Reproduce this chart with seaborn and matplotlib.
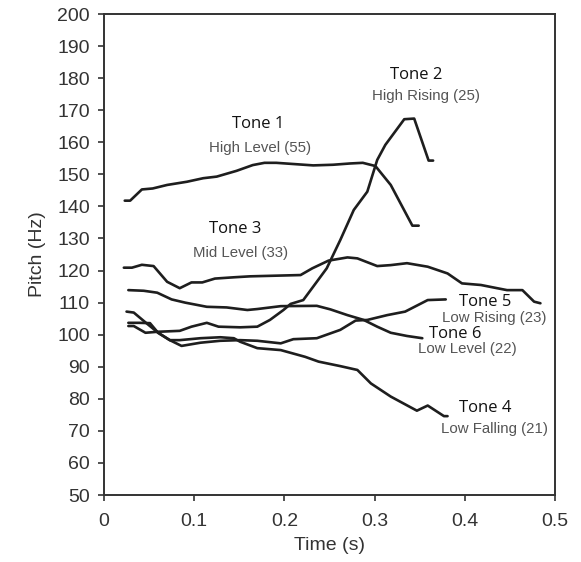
import numpy as np
import pandas as pd
import seaborn as sns
import matplotlib.pyplot as plt

sns.set_style("white")

# pitch contours (time in s, pitch in Hz)
tone1_t = [0.023, 0.029, 0.042, 0.054, 0.070, 0.092, 0.110, 0.125, 0.147, 0.165, 0.178, 0.191,
           0.232, 0.254, 0.273, 0.287, 0.301, 0.318, 0.342, 0.349]
tone1_f = [141.8, 141.8, 145.3, 145.6, 146.7, 147.7, 148.8, 149.3, 151.1, 152.9, 153.6, 153.6,
           152.8, 153.0, 153.4, 153.6, 152.6, 146.7, 134.0, 134.0]

tone2_t = [0.027, 0.033, 0.046, 0.059, 0.084, 0.097, 0.114, 0.127, 0.151, 0.170, 0.184, 0.199,
           0.207, 0.221, 0.236, 0.247, 0.262, 0.277, 0.292, 0.303, 0.312, 0.333, 0.344, 0.360, 0.365]
tone2_f = [102.7, 102.7, 100.6, 100.9, 101.2, 102.5, 103.7, 102.5, 102.3, 102.5, 104.6, 107.7,
           109.6, 110.8, 116.5, 120.7, 129.5, 138.9, 144.6, 154.5, 159.2, 167.2, 167.4, 154.3, 154.3]

tone3_t = [0.022, 0.031, 0.042, 0.055, 0.070, 0.084, 0.097, 0.109, 0.123, 0.144, 0.162, 0.218,
           0.231, 0.249, 0.270, 0.281, 0.303, 0.318, 0.336, 0.359, 0.381, 0.397, 0.418, 0.436,
           0.447, 0.464, 0.477, 0.484]
tone3_f = [120.9, 120.9, 121.8, 121.4, 116.5, 114.5, 116.3, 116.3, 117.5, 117.9, 118.2, 118.6,
           120.7, 123.1, 124.1, 123.8, 121.4, 121.7, 122.3, 121.2, 119.1, 116.0, 115.5, 114.5,
           113.9, 113.9, 110.3, 109.8]

tone4_t = [0.025, 0.033, 0.047, 0.060, 0.073, 0.084, 0.107, 0.129, 0.144, 0.151, 0.170, 0.196,
           0.223, 0.238, 0.262, 0.281, 0.296, 0.318, 0.347, 0.359, 0.377, 0.381]
tone4_f = [107.2, 106.9, 103.6, 100.6, 98.3, 98.3, 98.9, 99.2, 98.9, 97.8, 95.8, 95.2,
           93.1, 91.6, 90.2, 89.0, 84.8, 80.7, 76.3, 77.9, 74.6, 74.6]

tone5_t = [0.027, 0.039, 0.051, 0.060, 0.073, 0.086, 0.107, 0.129, 0.151, 0.170, 0.196, 0.210,
           0.236, 0.262, 0.279, 0.292, 0.314, 0.334, 0.359, 0.379]
tone5_f = [103.7, 103.7, 103.6, 100.6, 98.3, 96.5, 97.5, 98.1, 98.3, 98.1, 97.3, 98.6,
           98.9, 101.5, 104.4, 104.6, 106.1, 107.2, 110.8, 111.0]

tone6_t = [0.027, 0.044, 0.059, 0.075, 0.090, 0.114, 0.136, 0.159, 0.170, 0.196, 0.236, 0.251,
           0.270, 0.288, 0.303, 0.318, 0.336, 0.353]
tone6_f = [113.9, 113.7, 113.1, 111.0, 110.0, 108.7, 108.5, 107.7, 108.0, 108.9, 109.0, 107.9,
           106.1, 104.6, 102.5, 100.6, 99.6, 98.9]

tone_names = ["Tone 1", "Tone 2", "Tone 3", "Tone 4", "Tone 5", "Tone 6"]
tone_desc = ["High Level (55)", "High Rising (25)", "Mid Level (33)",
             "Low Falling (21)", "Low Rising (23)", "Low Level (22)"]
# label anchors (time, pitch) for title and description
title_pos = [(0.171, 165.7), (0.346, 181.0), (0.145, 132.9), (0.423, 77.0), (0.423, 110.1), (0.389, 100.1)]
desc_pos = [(0.173, 158.2), (0.357, 174.4), (0.152, 125.4), (0.433, 70.5), (0.433, 105.3), (0.403, 95.4)]

times = [tone1_t, tone2_t, tone3_t, tone4_t, tone5_t, tone6_t]
pitches = [tone1_f, tone2_f, tone3_f, tone4_f, tone5_f, tone6_f]

df = pd.concat([
    pd.DataFrame({"time": t, "pitch": f, "tone": name})
    for t, f, name in zip(times, pitches, tone_names)
], ignore_index=True)

fig = plt.figure(figsize=(5.81, 5.62), dpi=100)
ax = fig.add_axes([0.179, 0.1192, 0.776, 0.8558])

sns.lineplot(data=df, x="time", y="pitch", units="tone", estimator=None, sort=False,
             color="#1e1e1e", linewidth=1.9, ax=ax)

for name, desc, tp, dp in zip(tone_names, tone_desc, title_pos, desc_pos):
    ax.text(tp[0], tp[1], name, ha="center", va="center", fontsize=12,
            family=["Open Sans", "DejaVu Sans"], color="#111111")
    ax.text(dp[0], dp[1], desc, ha="center", va="center", fontsize=10.8,
            family=["Liberation Sans", "DejaVu Sans"], color="#555555")

ax.set_xlim(0, 0.5)
ax.set_ylim(50, 200)
ax.set_xticks(np.arange(0, 0.51, 0.1))
ax.set_xticklabels(["0", "0.1", "0.2", "0.3", "0.4", "0.5"])
ax.set_yticks(np.arange(50, 201, 10))

for side in ["left", "bottom", "top", "right"]:
    ax.spines[side].set_visible(True)
    ax.spines[side].set_color("#333333")
    ax.spines[side].set_linewidth(1.4)

ax.tick_params(axis="both", direction="out", length=4, width=1.2, color="#333333",
               labelsize=14, labelcolor="#333333", left=True, bottom=True)
ax.tick_params(axis="x", pad=9)
ax.tick_params(axis="y", pad=6)
for lab in ax.get_xticklabels() + ax.get_yticklabels():
    lab.set_family(["Liberation Sans", "DejaVu Sans"])

ax.set_xlabel("Time (s)", fontsize=14, color="#333333", family=["Liberation Sans", "DejaVu Sans"],
              labelpad=5)
ax.set_ylabel("Pitch (Hz)", fontsize=14, color="#333333", family=["Liberation Sans", "DejaVu Sans"],
              labelpad=8)

fig.savefig("out.png", dpi=100)
